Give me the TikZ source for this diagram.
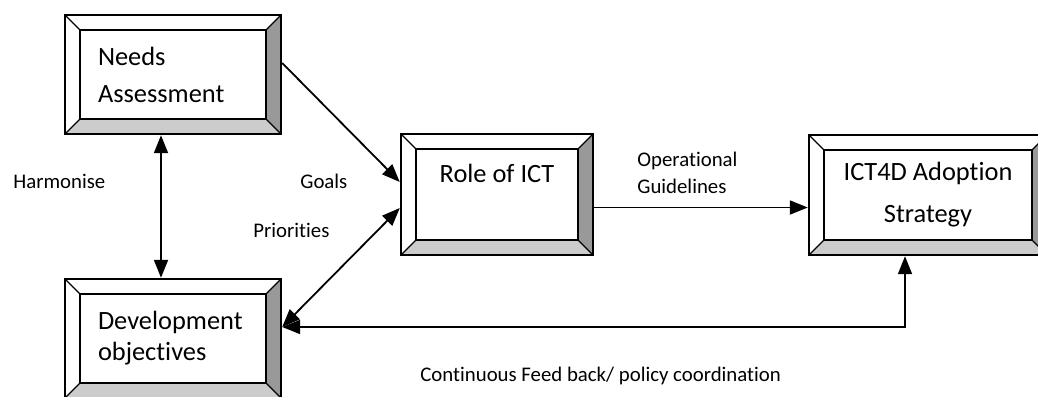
\documentclass[tikz,border=0pt]{standalone}
\usepackage{fontspec}
\setmainfont[RawFeature={-liga;-clig;-calt;-dlig}]{Carlito}
\usetikzlibrary{arrows.meta,calc}

\definecolor{bevelside}{gray}{0.6}
\definecolor{bevelfoot}{gray}{0.8}
\newcommand{\bevelw}{7.5pt}

\tikzset{
  bevelbox/.style={draw, line width=1.2pt, fill=white, inner sep=0pt,
    font=\fontsize{13.2pt}{15.5pt}\selectfont,
    path picture={
      \fill[bevelside] (path picture bounding box.north east)
        -- ([shift={(-\bevelw,-\bevelw)}]path picture bounding box.north east)
        -- ([shift={(-\bevelw,\bevelw)}]path picture bounding box.south east)
        -- (path picture bounding box.south east) -- cycle;
      \fill[bevelfoot] (path picture bounding box.south west)
        -- ([shift={(\bevelw,\bevelw)}]path picture bounding box.south west)
        -- ([shift={(-\bevelw,\bevelw)}]path picture bounding box.south east)
        -- (path picture bounding box.south east) -- cycle;
      \draw[line width=0.6pt] (path picture bounding box.north west) -- ++(\bevelw,-\bevelw);
      \draw[line width=0.6pt] (path picture bounding box.north east) -- ++(-\bevelw,-\bevelw);
      \draw[line width=0.6pt] (path picture bounding box.south west) -- ++(\bevelw,\bevelw);
      \draw[line width=0.6pt] (path picture bounding box.south east) -- ++(-\bevelw,\bevelw);
      \draw[line width=1.2pt] ([shift={(\bevelw,\bevelw)}]path picture bounding box.south west)
        rectangle ([shift={(-\bevelw,-\bevelw)}]path picture bounding box.north east);
    }},
  lbl/.style={font=\fontsize{10.4pt}{13.5pt}\selectfont, inner sep=0pt},
  link/.style={line width=0.9pt}
}

\begin{document}
\begin{tikzpicture}[x=0.5pt, y=-0.5pt, >={Triangle[length=9pt,width=7pt]}]
    \useasboundingbox (0,0) rectangle (1038,396);
    \clip (0,0) rectangle (1038,396);

    % Bevelled boxes
    \node[bevelbox, minimum width=108pt, minimum height=59.5pt, text width=75pt, align=left]
        (needs) at (173,74.5) {Needs\\[3pt]Assessment};
    \node[bevelbox, minimum width=108pt, minimum height=59.5pt, text width=75pt, align=left]
        (devobj) at (173,338.5) {Development\\objectives};
    \node[bevelbox, minimum width=96pt, minimum height=60.5pt, text height=10pt, text depth=22.5pt]
        (role) at (497,194.5) {Role of ICT};
    \node[bevelbox, minimum width=119pt, minimum height=60pt, align=center,
        font=\fontsize{13.2pt}{21pt}\selectfont]
        (adopt) at (928,195) {ICT4D Adoption\\Strategy};

    % Connector labels
    \node[lbl, anchor=base west] (harm) at (13,188) {Harmonise};
    \node[lbl, anchor=base west] (goals) at (300,188) {Goals};
    \node[lbl, anchor=base west] (prio) at (253,237) {Priorities};
    \node[lbl, anchor=base west, align=left] (guide) at (637,193) {Operational\\Guidelines};
    \node[lbl, anchor=base west] (feed) at (420,381) {Continuous Feed back/ policy coordination};

    % Connectors
    \draw[link, <->] ($(needs.south)+(-12,0)$) -- ($(devobj.north)+(-12,0)$);
    \draw[link, ->] ($(needs.east)+(0,-11.5)$) -- ($(role.west)+(0,-12.5)$);
    \draw[link, <->] ($(devobj.east)+(0,-11.5)$) -- ($(role.west)+(0,13.5)$);
    \draw[link, ->] ($(role.east)+(0,13)$) coordinate (ro) -- (ro -| adopt.west);

    % Feedback loop back to the objectives
    \draw[link, <->] ($(devobj.east)+(0,-11.5)$) -| ($(adopt.south)+(-23,0)$);
\end{tikzpicture}
\end{document}
